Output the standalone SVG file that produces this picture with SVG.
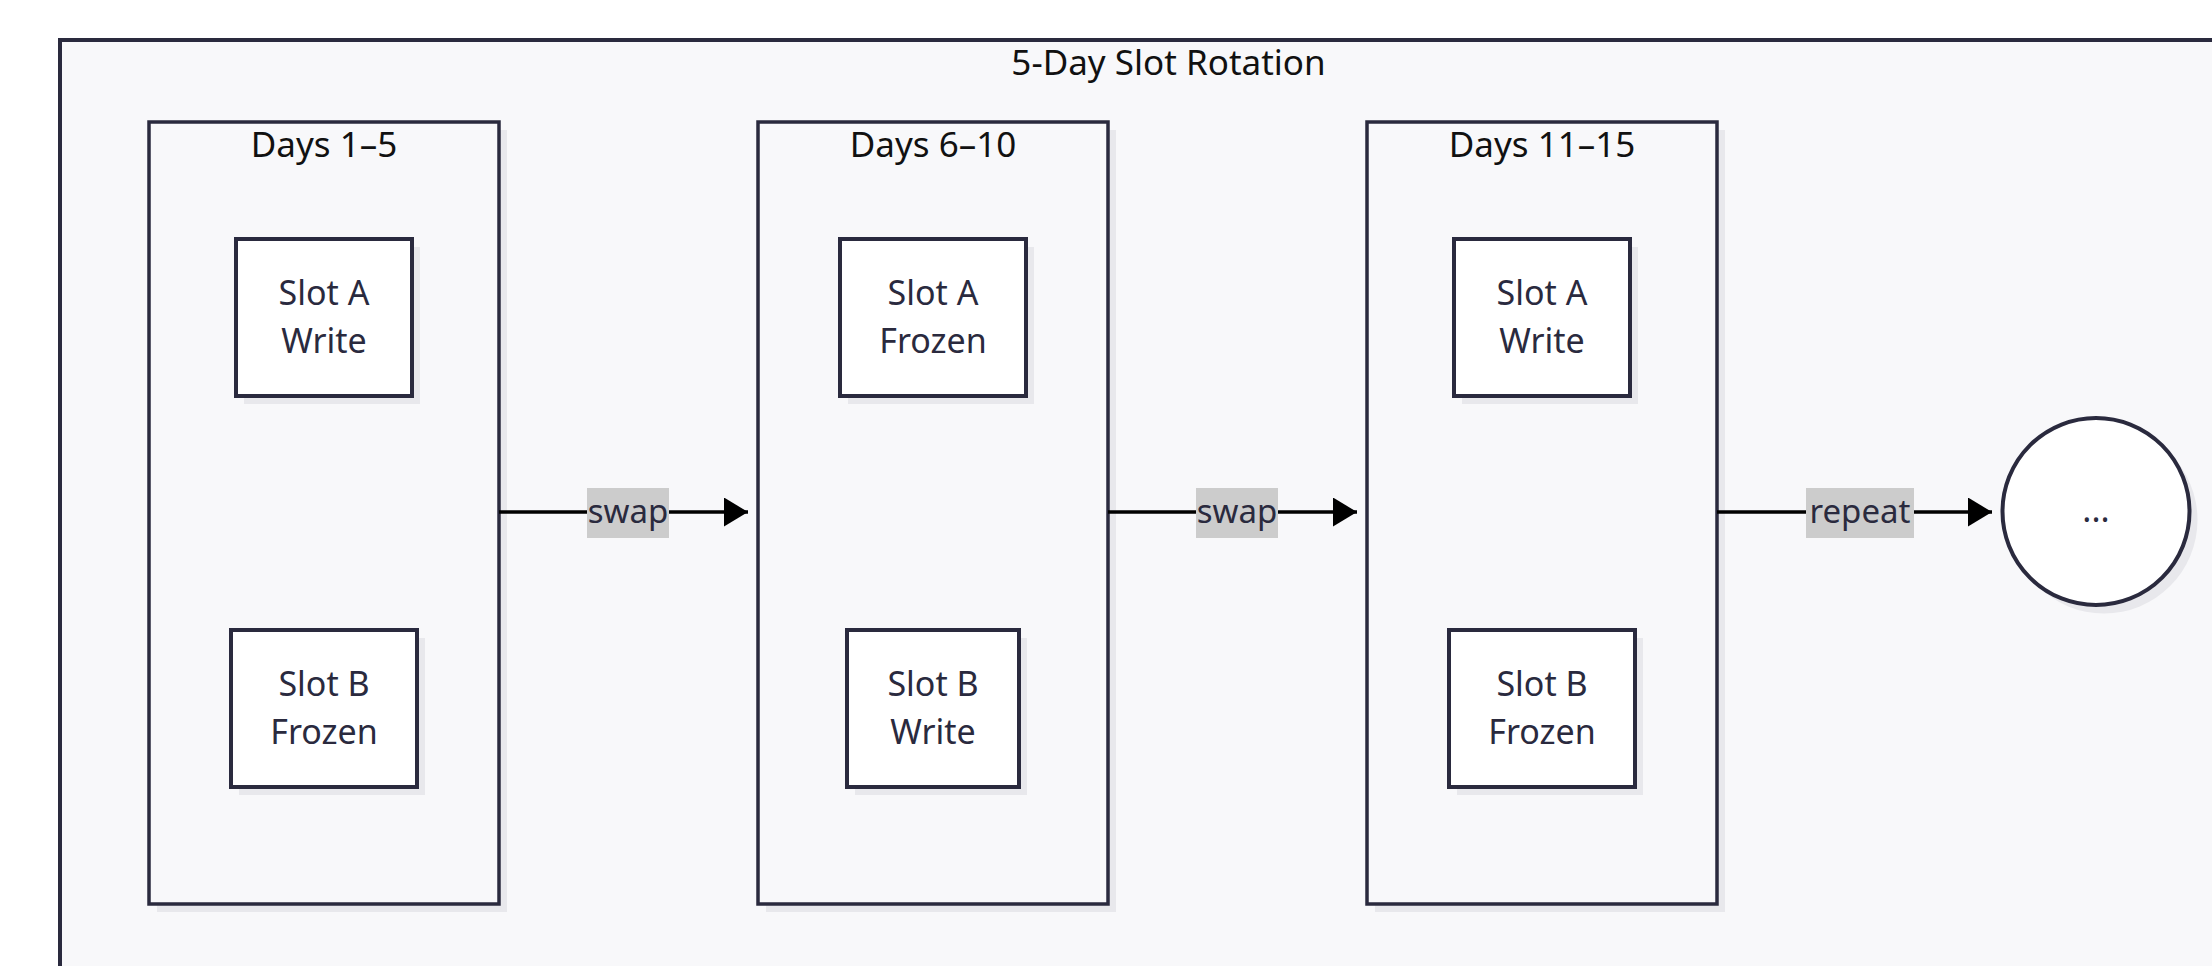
<svg xmlns="http://www.w3.org/2000/svg" width="2212" height="966" viewBox="0 0 2212 966">
  <defs>
    <style>
      .outer { fill: #f8f8fa; stroke: #2a2a3e; stroke-width: 4; }
      .cluster { fill: #f8f8fa; stroke: #2a2a3e; stroke-width: 3.5; }
      .shadow { fill: #e8e8ec; stroke: none; }
      .node { fill: #ffffff; stroke: #2a2a3e; stroke-width: 4; }
      .title { font-family: "Noto Sans", "Open Sans", sans-serif; font-size: 35px; fill: #111111; text-anchor: middle; }
      .ntext { font-family: "Noto Sans", "Open Sans", sans-serif; font-size: 34px; fill: #2a2a3e; text-anchor: middle; }
      .edge { fill: none; stroke: #000000; stroke-width: 3.5; }
      .elbg { fill: #cccccc; }
      .eltext { font-family: "Noto Sans", "Open Sans", sans-serif; font-size: 33px; fill: #2a2a3e; text-anchor: middle; }
    </style>
    <marker id="arrow" markerUnits="userSpaceOnUse" markerWidth="26" markerHeight="30" refX="24" refY="14.5" orient="auto">
      <path d="M0,0 L24,14.5 L0,29 Z" fill="#000000"/>
    </marker>
  </defs>

  <rect x="0" y="0" width="2212" height="966" fill="#ffffff"/>

  <g id="outer">
    <rect class="outer" x="60" y="40" width="2240" height="960"/>
    <text class="title" x="1168.5" y="75">5-Day Slot Rotation</text>
  </g>

  <g id="cluster-days1-5">
    <rect class="shadow" x="157" y="130" width="350" height="782"/>
    <rect class="cluster" x="149" y="122" width="350" height="782"/>
    <text class="title" x="324" y="157">Days 1–5</text>
  </g>
  <g id="cluster-days6-10">
    <rect class="shadow" x="766" y="130" width="350" height="782"/>
    <rect class="cluster" x="758" y="122" width="350" height="782"/>
    <text class="title" x="933" y="157">Days 6–10</text>
  </g>
  <g id="cluster-days11-15">
    <rect class="shadow" x="1375" y="130" width="350" height="782"/>
    <rect class="cluster" x="1367" y="122" width="350" height="782"/>
    <text class="title" x="1542" y="157">Days 11–15</text>
  </g>

  <g id="d1-slotA">
    <rect class="shadow" x="244" y="247" width="176" height="157"/>
    <rect class="node" x="236" y="239" width="176" height="157"/>
    <text class="ntext" x="324" y="305">Slot A</text>
    <text class="ntext" x="324" y="353">Write</text>
  </g>
  <g id="d1-slotB">
    <rect class="shadow" x="239" y="638" width="186" height="157"/>
    <rect class="node" x="231" y="630" width="186" height="157"/>
    <text class="ntext" x="324" y="696">Slot B</text>
    <text class="ntext" x="324" y="744">Frozen</text>
  </g>
  <g id="d2-slotA">
    <rect class="shadow" x="848" y="247" width="186" height="157"/>
    <rect class="node" x="840" y="239" width="186" height="157"/>
    <text class="ntext" x="933" y="305">Slot A</text>
    <text class="ntext" x="933" y="353">Frozen</text>
  </g>
  <g id="d2-slotB">
    <rect class="shadow" x="855" y="638" width="172" height="157"/>
    <rect class="node" x="847" y="630" width="172" height="157"/>
    <text class="ntext" x="933" y="696">Slot B</text>
    <text class="ntext" x="933" y="744">Write</text>
  </g>
  <g id="d3-slotA">
    <rect class="shadow" x="1462" y="247" width="176" height="157"/>
    <rect class="node" x="1454" y="239" width="176" height="157"/>
    <text class="ntext" x="1542" y="305">Slot A</text>
    <text class="ntext" x="1542" y="353">Write</text>
  </g>
  <g id="d3-slotB">
    <rect class="shadow" x="1457" y="638" width="186" height="157"/>
    <rect class="node" x="1449" y="630" width="186" height="157"/>
    <text class="ntext" x="1542" y="696">Slot B</text>
    <text class="ntext" x="1542" y="744">Frozen</text>
  </g>

  <g id="more">
    <circle class="shadow" cx="2104" cy="520" r="93.5"/>
    <circle class="node" cx="2096" cy="511.5" r="93.5"/>
    <text class="ntext" x="2096" y="522">...</text>
  </g>

  <g id="connectors">
    <line class="edge" x1="499" y1="512" x2="748" y2="512" marker-end="url(#arrow)"/>
    <rect class="elbg" x="587" y="488" width="82" height="50"/>
    <text class="eltext" x="628" y="523">swap</text>

    <line class="edge" x1="1108" y1="512" x2="1357" y2="512" marker-end="url(#arrow)"/>
    <rect class="elbg" x="1196" y="488" width="82" height="50"/>
    <text class="eltext" x="1237" y="523">swap</text>

    <line class="edge" x1="1717" y1="512" x2="1992" y2="512" marker-end="url(#arrow)"/>
    <rect class="elbg" x="1806" y="488" width="108" height="50"/>
    <text class="eltext" x="1860" y="523">repeat</text>
  </g>
</svg>
